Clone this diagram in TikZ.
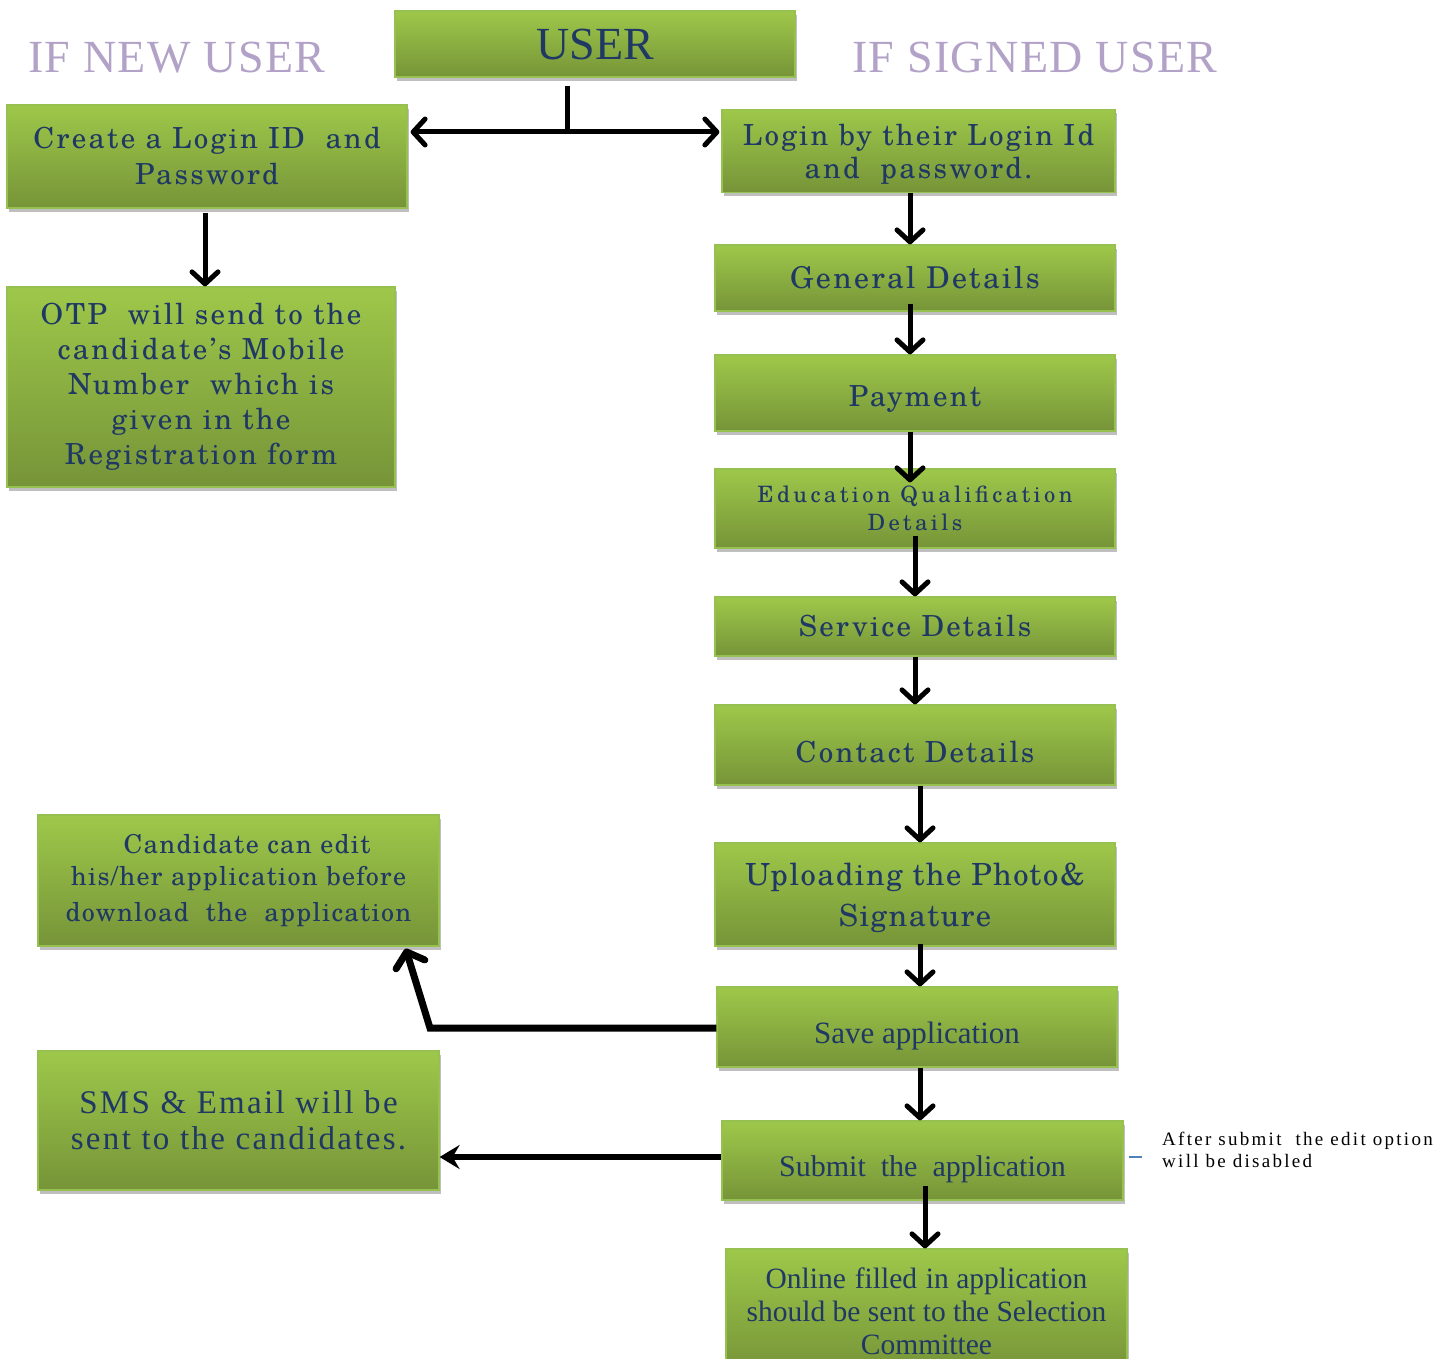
\documentclass[tikz,border=0pt]{standalone}
\usepackage{fontspec}
\setmainfont{Liberation Serif}
\newfontfamily\spA[LetterSpace=12]{Liberation Serif}
\newfontfamily\spC[LetterSpace=7]{Liberation Serif}
\newfontfamily\spL[LetterSpace=3]{Liberation Serif}
\newfontfamily\sch[LetterSpace=8]{texgyreschola-regular.otf}
\newfontfamily\schB[LetterSpace=5]{texgyreschola-regular.otf}
\newfontfamily\schW[LetterSpace=15]{texgyreschola-regular.otf}
\newcommand\lowerby[2]{\raisebox{-#1}[\height][\depth]{#2}}
\usetikzlibrary{arrows.meta,shadows,calc}
\definecolor{gtop}{RGB}{158,200,74}
\definecolor{gbot}{RGB}{118,148,56}
\definecolor{gline}{RGB}{150,192,80}
\definecolor{navy}{RGB}{31,56,100}
\definecolor{lav}{RGB}{179,162,199}
\definecolor{dashblue}{RGB}{79,129,189}
\tikzset{
  gbox/.style={draw=gline, line width=1.2pt, top color=gtop, bottom color=gbot,
    inner sep=0pt, align=center, text=navy,
    drop shadow={shadow xshift=2pt, shadow yshift=-4pt, opacity=0.25, fill=black}},
  arr/.style={line width=5pt, -{Straight Barb[round,length=12pt,width=26pt]}},
  dbl/.style={line width=5pt, {Straight Barb[round,length=12pt,width=26pt]}-{Straight Barb[round,length=12pt,width=26pt]}},
  plainline/.style={line width=5pt},
  arrK/.style={line width=7pt, line join=miter, -{Straight Barb[round,length=13pt,width=30pt]}},
  arrS/.style={line width=6pt, -{Stealth[length=20pt,width=24pt,inset=7pt]}},
  lbl/.style={inner sep=0pt, text=lav, font=\spL\fontsize{46}{50}\selectfont},
}
\begin{document}
\begin{tikzpicture}[x=1pt,y=-1pt]
\useasboundingbox (0,0) rectangle (1448,1359);
\fill[white] (0,0) rectangle (1448,1359);

\node[lbl, anchor=base west] (lnew) at (28,73) {IF NEW USER};
\node[lbl, anchor=base west] (lsig) at (852,73) {IF SIGNED USER};

\node[gbox, minimum width=400pt, minimum height=66pt, font=\fontsize{46}{50}\selectfont] (user) at (595,44) {USER};

\node[gbox, minimum width=400pt, minimum height=103pt, font=\sch\fontsize{29}{36}\selectfont] (create) at (207,156.5) {Create a Login ID\ \ and\\Password};
\node[gbox, minimum width=393pt, minimum height=83pt, font=\sch\fontsize{29}{33}\selectfont] (login) at (918.5,151) {\lowerby{3pt}{Login by their Login Id}\\\lowerby{3pt}{and\ \ password.}};
\node[gbox, minimum width=388pt, minimum height=200pt, font=\sch\fontsize{29}{35}\selectfont] (otp) at (201,387) {OTP\ \ will send to the\\candidate’s Mobile\\Number\ \ which is\\given in the\\Registration form};

\node[gbox, minimum width=400pt, minimum height=66pt, font=\sch\fontsize{30}{38}\selectfont] (general) at (915,278) {General Details};
\node[gbox, minimum width=400pt, minimum height=76pt, font=\sch\fontsize{29}{38}\selectfont] (payment) at (915,393) {\lowerby{6pt}{Payment}};
\node[gbox, minimum width=400pt, minimum height=79pt, font=\schW\fontsize{22.5}{28}\selectfont] (edu) at (915,508.5) {Education Qualification\\Details};
\node[gbox, minimum width=400pt, minimum height=59pt, font=\sch\fontsize{29}{36}\selectfont] (service) at (915,626.5) {Service Details};
\node[gbox, minimum width=400pt, minimum height=80pt, font=\sch\fontsize{29}{36}\selectfont] (contact) at (915,745) {\lowerby{7pt}{Contact Details}};
\node[gbox, minimum width=400pt, minimum height=103pt, font=\schB\fontsize{30.5}{41}\selectfont] (upload) at (915,894.5) {\lowerby{3pt}{Uploading the Photo\&}\\\lowerby{3pt}{Signature}};
\node[gbox, minimum width=400pt, minimum height=80pt, font=\fontsize{31}{36}\selectfont] (save) at (917,1027) {\lowerby{9pt}{Save application}};
\node[gbox, minimum width=401pt, minimum height=79pt, font=\fontsize{30}{36}\selectfont] (submit) at (922.5,1160.5) {\lowerby{9pt}{Submit\hspace{0.5em}the\hspace{0.5em}application}};
\node[gbox, minimum width=401pt, minimum height=124pt, font=\fontsize{29.5}{33}\selectfont] (online) at (926.5,1311) {Online\hspace{0.3em}filled\hspace{0.3em}in application\\should be sent to the Selection\\Committee};

\node[gbox, minimum width=401pt, minimum height=131pt, font=\schB\fontsize{26}{32}\selectfont] (candidate) at (238.5,880.5) {\ \ Candidate can edit\\his/her application before\\[4pt]download\ \ the\ \ application};
\node[gbox, minimum width=401pt, minimum height=139pt, font=\spC\fontsize{33}{36}\selectfont] (sms) at (238.5,1120.5) {SMS \& Email will be\\sent to the candidates.};

\node[inner sep=0pt, anchor=west, align=left, font=\spA\fontsize{19}{22}\selectfont] (note) at (1162,1150) {After submit\ \ the edit option\\will be disabled};

% connectors
\coordinate (j) at (567,132);
\draw[plainline] ([yshift=-8pt]user.south -| j) -- (j);
\draw[dbl] ([xshift=3pt]create.east |- j) -- ([xshift=-2pt]login.west |- j);
\draw[arr] ([xshift=-2pt,yshift=-4pt]create.south) -- ([xshift=-2pt]create.south |- otp.north);
\draw[arr] ([xshift=-8.5pt]login.south) -- ([xshift=-8.5pt]login.south |- general.north);
\draw[arr] ([xshift=-5pt,yshift=8pt]general.south) -- ([xshift=-5pt]general.south |- payment.north);
\draw[arr] ([xshift=-5pt]payment.south) -- ([xshift=-5pt,yshift=-14pt]payment.south |- edu.north);
\draw[arr] ([yshift=13pt]edu.south) -- (service.north);
\draw[arr] (service.south) -- (contact.north);
\draw[arr] ([xshift=5pt]contact.south) -- ([xshift=5pt]contact.south |- upload.north);
\draw[arr] ([xshift=5pt,yshift=3pt]upload.south) -- ([xshift=5pt]upload.south |- save.north);
\draw[arr] ([xshift=3pt]save.south) -- ([xshift=3pt]save.south |- submit.north);
\draw[arr] ([xshift=2.5pt,yshift=15pt]submit.south) -- ([xshift=2.5pt]submit.south |- online.north);
\coordinate (bend) at (430,1028);
\draw[arrK] (save.west |- bend) -- (bend) -- ([xshift=-34pt,yshift=-2pt]candidate.south east);
\draw[arrS] ([yshift=3.5pt]submit.west) -- ([yshift=3.5pt]submit.west -| sms.east);
\draw[dashblue, line width=1.5pt] ([xshift=5pt,yshift=3.5pt]submit.east) -- ([xshift=-20pt,yshift=3.5pt]note.west |- submit.east);
\end{tikzpicture}
\end{document}
